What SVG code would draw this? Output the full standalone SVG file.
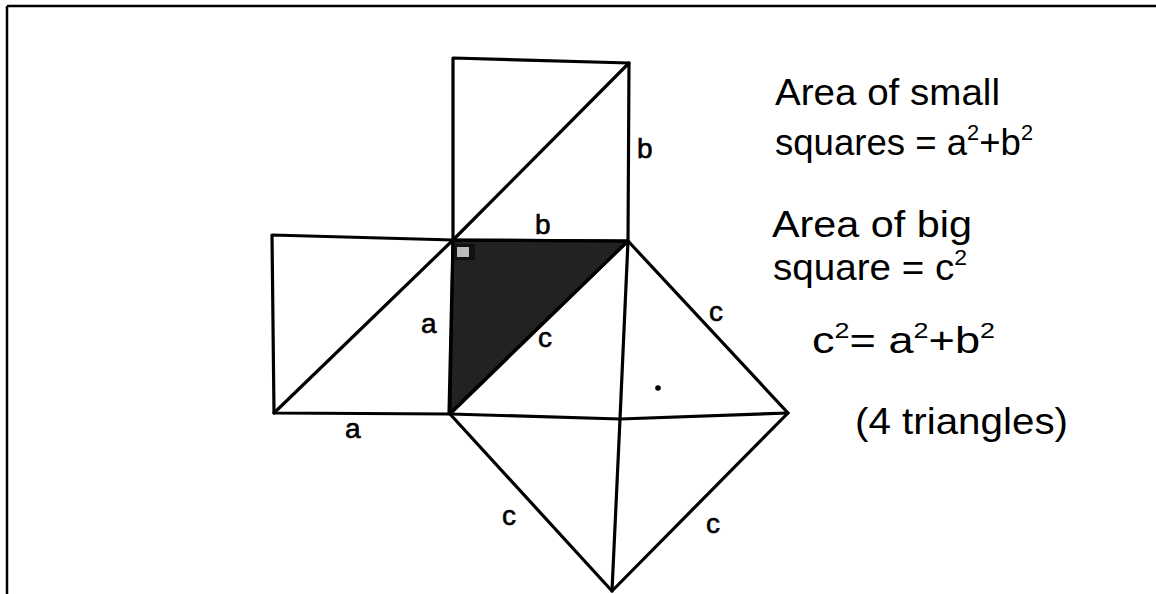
<svg xmlns="http://www.w3.org/2000/svg" width="1156" height="594" viewBox="0 0 1156 594">
<style>
.ln{fill:none;stroke:#000;stroke-width:3.2;stroke-linecap:round;stroke-linejoin:round}
.lbl{font-family:"Liberation Sans","DejaVu Sans",sans-serif;font-size:28px;fill:#000;stroke:#000;stroke-width:0.6}
.note{font-family:"Liberation Sans","DejaVu Sans",sans-serif;font-size:37px;fill:#000}
.sup{font-size:22px}
</style>
<rect width="1156" height="594" fill="#fff"/>
<g id="frame">
<line x1="7" y1="6" x2="1156" y2="6" stroke="#000" stroke-width="2.5"/>
<line x1="7" y1="6" x2="7" y2="594" stroke="#000" stroke-width="2.5"/>
</g>
<g id="shaded-triangle">
<polygon points="453,240 628,241 450,413" fill="#222" stroke="#000" stroke-width="3" stroke-linejoin="round"/>
<rect x="455" y="244" width="20" height="16" fill="#111"/>
<rect x="457" y="247" width="12" height="10" fill="#bbb"/>
</g>
<g id="square-a">
<path class="ln" d="M272,235 L453,240 L449,414 L274,413 Z"/>
<path class="ln" d="M274,413 L453,240"/>
</g>
<g id="square-b">
<path class="ln" d="M453,58 L629,63 L628,241 L453,240 Z"/>
<path class="ln" d="M453,240 L629,63"/>
</g>
<g id="square-c">
<path class="ln" d="M628,241 L788,413 L612,591 L450,414 Z"/>
<path class="ln" d="M450,414 L620,419 L788,413"/>
<path class="ln" d="M628,241 L620,419 L612,591"/>
<circle cx="658" cy="388" r="2.8" fill="#000"/>
</g>
<g id="labels">
<text class="lbl" x="637" y="158">b</text>
<text class="lbl" x="535" y="234">b</text>
<text class="lbl" x="421" y="333">a</text>
<text class="lbl" x="538" y="347">c</text>
<text class="lbl" x="345" y="438">a</text>
<text class="lbl" x="709" y="321">c</text>
<text class="lbl" x="502" y="525">c</text>
<text class="lbl" x="706" y="533">c</text>
</g>
<g id="notes">
<text class="note" x="775" y="105" textLength="225" lengthAdjust="spacingAndGlyphs">Area of small</text>
<text class="note" x="775" y="155" textLength="258" lengthAdjust="spacingAndGlyphs">squares = a<tspan class="sup" dy="-15">2</tspan><tspan dy="15">+b</tspan><tspan class="sup" dy="-15">2</tspan></text>
<text class="note" x="772" y="237" textLength="200" lengthAdjust="spacingAndGlyphs">Area of big</text>
<text class="note" x="773" y="280" textLength="194" lengthAdjust="spacingAndGlyphs">square = c<tspan class="sup" dy="-15">2</tspan></text>
<text class="note" x="812" y="353" textLength="183" lengthAdjust="spacingAndGlyphs">c<tspan class="sup" dy="-15">2</tspan><tspan dy="15">= a</tspan><tspan class="sup" dy="-15">2</tspan><tspan dy="15">+b</tspan><tspan class="sup" dy="-15">2</tspan></text>
<text class="note" x="855" y="434" textLength="213" lengthAdjust="spacingAndGlyphs">(4 triangles)</text>
</g>
</svg>
